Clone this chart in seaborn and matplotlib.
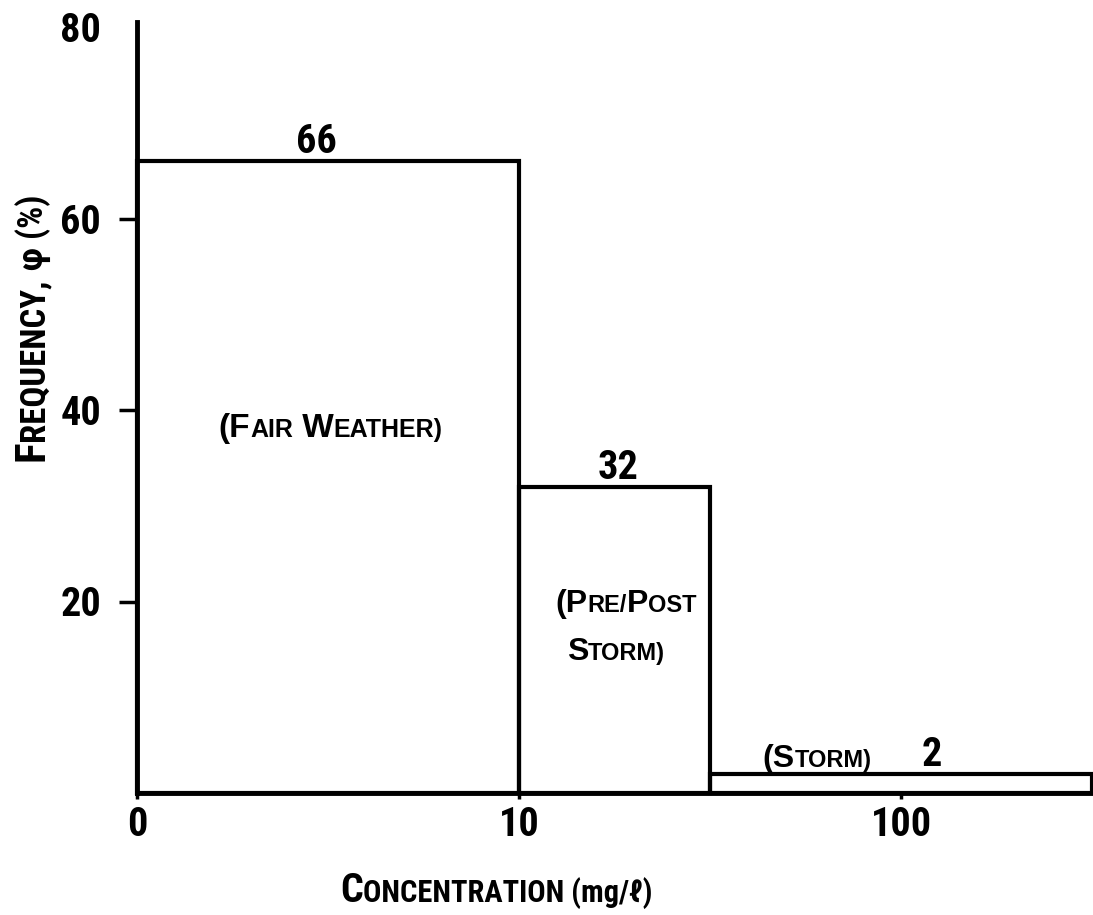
import matplotlib
matplotlib.use("Agg")
import matplotlib.pyplot as plt
from matplotlib import font_manager
from matplotlib.transforms import Affine2D
import numpy as np
import seaborn as sns

# frequency of each concentration class (%)
classes = ["Fair Weather", "Pre/Post Storm", "Storm"]
frequency = [66, 32, 2]
# class boundaries on the (non-linear) concentration axis, in axis units
class_edges = [0, 1, 1.5, 2.5]
x_ticks = [0, 1, 2]
x_tick_labels = ["0", "10", "100"]
y_ticks = [20, 40, 60, 80]


def pick_narrow():
    # look for any condensed / narrow face, else plain DejaVu
    fonts = font_manager.fontManager.ttflist
    names = {f.name for f in fonts}
    for n in ["Liberation Sans Narrow", "Noto Sans Condensed", "DejaVu Sans Condensed",
              "Roboto Condensed", "Noto Sans SemiCondensed", "Open Sans Condensed"]:
        if n in names:
            return n, "normal"
    for f in fonts:
        if "Condensed" in f.name or "Narrow" in f.name:
            return f.name, "normal"
    for f in fonts:
        if f.stretch in ("condensed", "semi-condensed", "extra-condensed"):
            return f.name, f.stretch
    return "DejaVu Sans", "normal"


NARROW_NAME, NARROW_STRETCH = pick_narrow()
NARROW = [NARROW_NAME, "DejaVu Sans"]
WIDE = ["Liberation Sans", "DejaVu Sans"]


def small_caps(ax, x, y, parts, transform, rotation=0, family=WIDE, stretch="normal"):
    # draw pieces of different sizes one after another, centred on (x, y)
    r = ax.figure.canvas.get_renderer()
    texts, lens = [], []
    for s, size in parts:
        t = ax.text(x, y, s, fontsize=size, family=family, weight="bold",
                    fontstretch=stretch, color="black",
                    rotation=rotation, rotation_mode="anchor", ha="left",
                    va="baseline", transform=transform, clip_on=False)
        bb = t.get_window_extent(r)
        lens.append(bb.height if rotation else bb.width)
        texts.append(t)
    pos = -sum(lens) / 2
    for t, n in zip(texts, lens):
        shift = Affine2D().translate(0, pos) if rotation else Affine2D().translate(pos, 0)
        t.set_transform(transform + shift)
        pos += n


sns.set_style("ticks")
plt.rcParams["font.family"] = NARROW
plt.rcParams["text.color"] = "black"

fig = plt.figure(figsize=(10.93, 9.15), dpi=100)
ax = fig.add_axes([137 / 1093, 122 / 915, 955 / 1093, 766 / 915])

centers = np.convolve(class_edges, [0.5, 0.5], "valid")
sns.histplot(x=centers, weights=frequency, bins=class_edges, fill=False,
             color="black", linewidth=3, ax=ax)
for p in ax.patches:
    p.set_clip_on(False)
    p.set_edgecolor("black")

ax.set_xlim(0, 2.5)
ax.set_ylim(0, 80)
ax.set_xticks(x_ticks, x_tick_labels)
ax.set_yticks(y_ticks, [str(v) for v in y_ticks])
ax.set_xlabel("")
ax.set_ylabel("")
sns.despine(ax=ax)
for side in ["left", "bottom"]:
    ax.spines[side].set_linewidth(3.5)
    ax.spines[side].set_color("black")
ax.spines["left"].set_bounds(0, 80.5)
ax.tick_params(axis="y", length=13, width=2.5, pad=13, labelsize=29, colors="black")
ax.tick_params(axis="x", length=4, width=2.5, pad=5, labelsize=29, colors="black")
for lbl in ax.get_xticklabels() + ax.get_yticklabels():
    lbl.set_fontweight("bold")
    lbl.set_fontstretch(NARROW_STRETCH)
ax.yaxis.get_major_ticks()[-1].tick1line.set_visible(False)

# bar values
for cx, val, dx in zip(centers, frequency, [-0.03, 0.01, 0.08]):
    ax.text(cx + dx, val + 0.8, str(val), ha="center", va="baseline", color="black",
            fontsize=29, fontweight="bold", family=NARROW, fontstretch=NARROW_STRETCH)

# class names
T = ax.transData
small_caps(ax, 0.507, 37.2, [("(F", 24), ("AIR", 18), (" W", 24), ("EATHER)", 18)], T)
small_caps(ax, 1.28, 18.9, [("(P", 23), ("RE/", 17), ("P", 23), ("OST", 17)], T)
small_caps(ax, 1.254, 13.9, [("S", 23), ("TORM)", 17)], T)
small_caps(ax, 1.78, 2.7, [("(S", 23), ("TORM)", 17)], T)

# axis labels
F = fig.transFigure
small_caps(ax, 496 / 1093, 13 / 915, [("C", 29), ("ONCENTRATION (mg/ℓ)", 22)], F,
           family=NARROW, stretch=NARROW_STRETCH)
small_caps(ax, 43 / 1093, 587 / 915, [("F", 31), ("REQUENCY,", 25), (" φ", 25), (" (%)", 25)],
           F, rotation=90, family=NARROW, stretch=NARROW_STRETCH)

fig.savefig("out.png", dpi=100)
